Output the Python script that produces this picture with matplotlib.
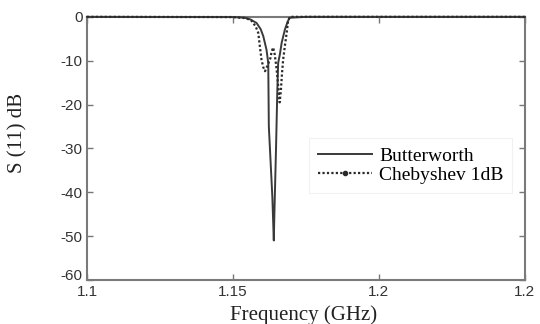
import matplotlib
matplotlib.use('Agg')
import matplotlib.pyplot as plt
from matplotlib.lines import Line2D
from matplotlib.transforms import ScaledTranslation

# Butterworth response (frequency in GHz, S11 in dB)
f_butter = [1.100, 1.150, 1.1541, 1.1560, 1.1581, 1.1595, 1.1604, 1.1615, 1.1621,
            1.1623, 1.1629, 1.1635, 1.1640, 1.1642, 1.1645, 1.1648, 1.1652, 1.1655,
            1.1661, 1.1667, 1.1678, 1.1688, 1.1695, 1.175, 1.250]
s_butter = [0, -0.05, -0.2, -0.6, -1.4, -2.8, -4.4, -7.5, -10.5,
            -25, -33, -41, -51, -45, -37, -29, -17, -10.5,
            -8.5, -5.9, -2.9, -1.0, -0.2, 0, 0]

# Chebyshev 1dB response
f_cheby = [1.100, 1.150, 1.1545, 1.1564, 1.1578, 1.1587, 1.1592, 1.1598, 1.1604,
           1.1610, 1.1616, 1.1622, 1.1628, 1.1633, 1.1638, 1.1643, 1.1648, 1.1652,
           1.1656, 1.1660, 1.1664, 1.1668, 1.1672, 1.1678, 1.1684, 1.1689, 1.1695,
           1.175, 1.250]
s_cheby = [0, -0.05, -0.3, -0.9, -2.2, -3.7, -6.6, -9.8, -11.5,
           -12.4, -11.5, -10.5, -9.5, -7.8, -7.0, -8.5, -11, -13.5,
           -16.5, -19.5, -17, -13, -9.8, -6.6, -3.7, -0.9, 0,
           0, 0]

xticks = [1.1, 1.15, 1.2, 1.25]
xtick_labels = ['1.1', '1.15', '1.2', '1.2']
yticks = [0, -10, -20, -30, -40, -50, -60]
ytick_labels = ['0', '-10', '-20', '-30', '-40', '-50', '-60']

fig = plt.figure(figsize=(5.4, 3.24), dpi=100)
ax = fig.add_axes([0.161, 0.136, 0.811, 0.812])

ax.plot(f_butter, s_butter, color='#3a3a3a', lw=1.4, ls='-', zorder=3, clip_on=False)
ax.plot(f_cheby, s_cheby, color='#2a2a2a', lw=1.6, ls=(0, (1, 1)), zorder=3, clip_on=False)

ax.set_xlim(1.1, 1.25)
ax.set_ylim(-60, 0)
ax.set_xticks(xticks)
ax.set_xticklabels(xtick_labels, family='Liberation Sans', fontsize=11, color='#333333')
ax.set_yticks(yticks)
ax.set_yticklabels(ytick_labels, family='Liberation Sans', fontsize=11, color='#333333')
ax.tick_params(direction='in', length=4, width=1, color='#777777',
               top=True, right=True)
ax.tick_params(axis='x', pad=4)
ax.tick_params(axis='y', pad=3)
for sp in ax.spines.values():
    sp.set_color('#7a7a7a')
    sp.set_linewidth(1.5)

# lift the bottom y label a little, as in the original
lbl = ax.get_yticklabels()[-1]
lbl.set_transform(lbl.get_transform() + ScaledTranslation(0, 4 / 72, fig.dpi_scale_trans))

ax.set_xlabel('Frequency (GHz)', family='Liberation Serif', fontsize=15, color='#222222')
ax.xaxis.set_label_coords(0.495, -0.095)
ax.set_ylabel('S (11) dB', family='Liberation Serif', fontsize=15, color='#222222')
ax.yaxis.set_label_coords(-0.135, 0.56)

handles = [Line2D([], [], color='#3a3a3a', lw=1.4, ls='-'),
           Line2D([], [], color='#2a2a2a', lw=1.6, ls=(0, (1, 1)), marker='.', markersize=6)]
leg = ax.legend(handles, ['Butterworth', 'Chebyshev 1dB'], loc='upper left',
                bbox_to_anchor=(0.485, 0.575), frameon=True, fancybox=False,
                numpoints=1, handlelength=2.8, handletextpad=0.35, borderpad=0.45,
                labelspacing=0.1, prop={'family': 'Liberation Serif', 'size': 14})
leg.get_frame().set_edgecolor('#eeeeee')
leg.get_frame().set_linewidth(0.8)

fig.savefig('out.png', dpi=100)
